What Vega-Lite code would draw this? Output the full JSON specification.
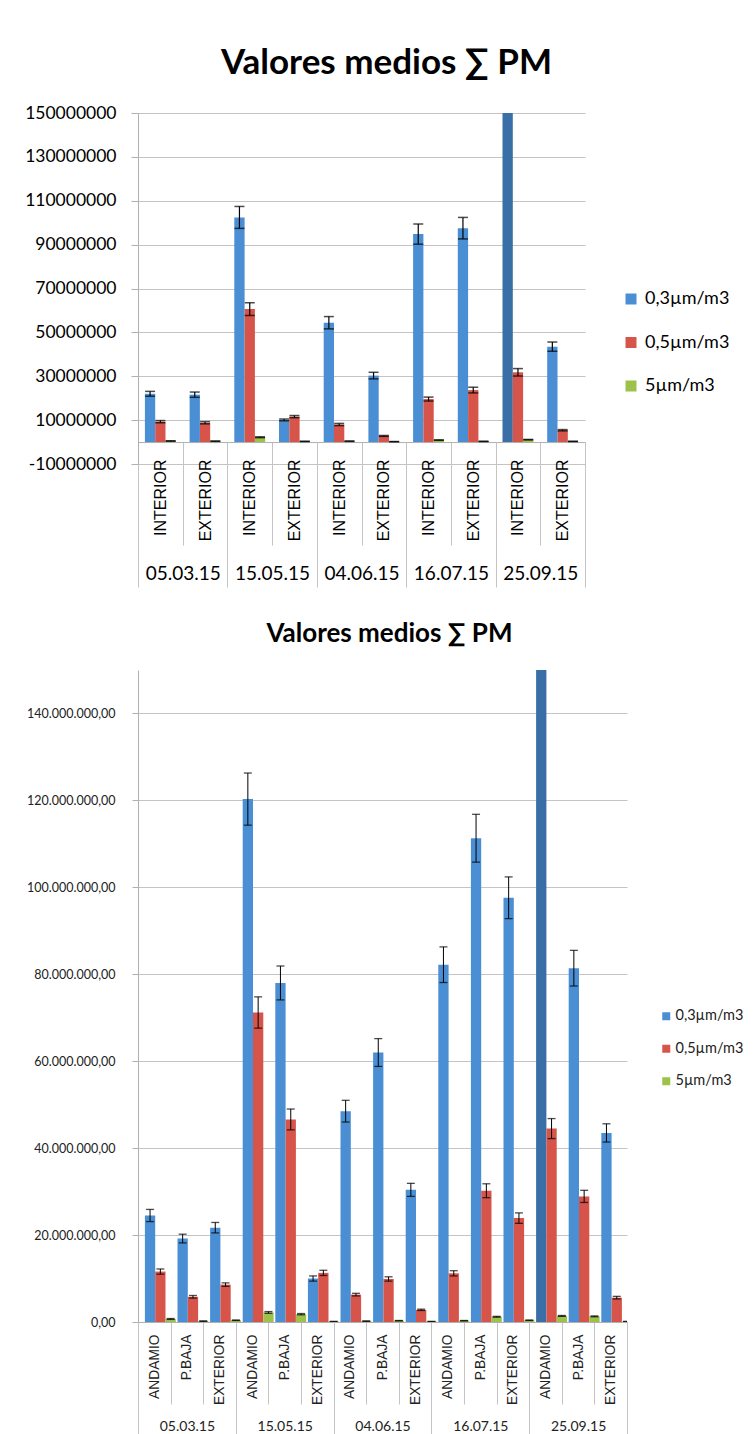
{
  "$schema": "https://vega.github.io/schema/vega-lite/v6.json",
  "padding": {"left": 24, "top": 46, "right": 0, "bottom": 0},
  "spacing": 33,
  "background": "white",
  "datasets": {
    "top": [
      {"fecha": "05.03.15", "cat": "05.03.15 INTERIOR", "serie": "0,3µm/m3", "valor": 22000000, "lo": 20900000, "hi": 23100000},
      {"fecha": "05.03.15", "cat": "05.03.15 INTERIOR", "serie": "0,5µm/m3", "valor": 9300000, "lo": 8800000, "hi": 9800000},
      {"fecha": "05.03.15", "cat": "05.03.15 INTERIOR", "serie": "5µm/m3", "valor": 500000, "lo": 400000, "hi": 600000},
      {"fecha": "05.03.15", "cat": "05.03.15 EXTERIOR", "serie": "0,3µm/m3", "valor": 21600000, "lo": 20400000, "hi": 22800000},
      {"fecha": "05.03.15", "cat": "05.03.15 EXTERIOR", "serie": "0,5µm/m3", "valor": 8800000, "lo": 8300000, "hi": 9300000},
      {"fecha": "05.03.15", "cat": "05.03.15 EXTERIOR", "serie": "5µm/m3", "valor": 400000, "lo": 300000, "hi": 500000},
      {"fecha": "15.05.15", "cat": "15.05.15 INTERIOR", "serie": "0,3µm/m3", "valor": 102400000, "lo": 97400000, "hi": 107400000},
      {"fecha": "15.05.15", "cat": "15.05.15 INTERIOR", "serie": "0,5µm/m3", "valor": 60600000, "lo": 57700000, "hi": 63500000},
      {"fecha": "15.05.15", "cat": "15.05.15 INTERIOR", "serie": "5µm/m3", "valor": 2200000, "lo": 2000000, "hi": 2400000},
      {"fecha": "15.05.15", "cat": "15.05.15 EXTERIOR", "serie": "0,3µm/m3", "valor": 10100000, "lo": 9700000, "hi": 10500000},
      {"fecha": "15.05.15", "cat": "15.05.15 EXTERIOR", "serie": "0,5µm/m3", "valor": 11600000, "lo": 11100000, "hi": 12100000},
      {"fecha": "15.05.15", "cat": "15.05.15 EXTERIOR", "serie": "5µm/m3", "valor": 300000, "lo": 250000, "hi": 350000},
      {"fecha": "04.06.15", "cat": "04.06.15 INTERIOR", "serie": "0,3µm/m3", "valor": 54400000, "lo": 51600000, "hi": 57200000},
      {"fecha": "04.06.15", "cat": "04.06.15 INTERIOR", "serie": "0,5µm/m3", "valor": 8000000, "lo": 7500000, "hi": 8500000},
      {"fecha": "04.06.15", "cat": "04.06.15 INTERIOR", "serie": "5µm/m3", "valor": 400000, "lo": 300000, "hi": 500000},
      {"fecha": "04.06.15", "cat": "04.06.15 EXTERIOR", "serie": "0,3µm/m3", "valor": 30300000, "lo": 28800000, "hi": 31800000},
      {"fecha": "04.06.15", "cat": "04.06.15 EXTERIOR", "serie": "0,5µm/m3", "valor": 2800000, "lo": 2600000, "hi": 3000000},
      {"fecha": "04.06.15", "cat": "04.06.15 EXTERIOR", "serie": "5µm/m3", "valor": 200000, "lo": 150000, "hi": 250000},
      {"fecha": "16.07.15", "cat": "16.07.15 INTERIOR", "serie": "0,3µm/m3", "valor": 94800000, "lo": 90200000, "hi": 99400000},
      {"fecha": "16.07.15", "cat": "16.07.15 INTERIOR", "serie": "0,5µm/m3", "valor": 19600000, "lo": 18700000, "hi": 20500000},
      {"fecha": "16.07.15", "cat": "16.07.15 INTERIOR", "serie": "5µm/m3", "valor": 900000, "lo": 800000, "hi": 1000000},
      {"fecha": "16.07.15", "cat": "16.07.15 EXTERIOR", "serie": "0,3µm/m3", "valor": 97500000, "lo": 92600000, "hi": 102400000},
      {"fecha": "16.07.15", "cat": "16.07.15 EXTERIOR", "serie": "0,5µm/m3", "valor": 23700000, "lo": 22400000, "hi": 25000000},
      {"fecha": "16.07.15", "cat": "16.07.15 EXTERIOR", "serie": "5µm/m3", "valor": 300000, "lo": 250000, "hi": 350000},
      {"fecha": "25.09.15", "cat": "25.09.15 INTERIOR", "serie": "0,3µm/m3", "valor": 170000000, "lo": 162000000, "hi": 178000000},
      {"fecha": "25.09.15", "cat": "25.09.15 INTERIOR", "serie": "0,5µm/m3", "valor": 31800000, "lo": 30100000, "hi": 33500000},
      {"fecha": "25.09.15", "cat": "25.09.15 INTERIOR", "serie": "5µm/m3", "valor": 1100000, "lo": 1000000, "hi": 1200000},
      {"fecha": "25.09.15", "cat": "25.09.15 EXTERIOR", "serie": "0,3µm/m3", "valor": 43500000, "lo": 41400000, "hi": 45600000},
      {"fecha": "25.09.15", "cat": "25.09.15 EXTERIOR", "serie": "0,5µm/m3", "valor": 5400000, "lo": 5100000, "hi": 5700000},
      {"fecha": "25.09.15", "cat": "25.09.15 EXTERIOR", "serie": "5µm/m3", "valor": 300000, "lo": 250000, "hi": 350000}
    ],
    "bottom": [
      {"fecha": "05.03.15", "cat": "05.03.15 ANDAMIO", "serie": "0,3µm/m3", "valor": 24500000, "lo": 23100000, "hi": 25900000},
      {"fecha": "05.03.15", "cat": "05.03.15 ANDAMIO", "serie": "0,5µm/m3", "valor": 11600000, "lo": 11000000, "hi": 12200000},
      {"fecha": "05.03.15", "cat": "05.03.15 ANDAMIO", "serie": "5µm/m3", "valor": 700000, "lo": 600000, "hi": 800000},
      {"fecha": "05.03.15", "cat": "05.03.15 P.BAJA", "serie": "0,3µm/m3", "valor": 19200000, "lo": 18200000, "hi": 20200000},
      {"fecha": "05.03.15", "cat": "05.03.15 P.BAJA", "serie": "0,5µm/m3", "valor": 5800000, "lo": 5500000, "hi": 6100000},
      {"fecha": "05.03.15", "cat": "05.03.15 P.BAJA", "serie": "5µm/m3", "valor": 200000, "lo": 150000, "hi": 250000},
      {"fecha": "05.03.15", "cat": "05.03.15 EXTERIOR", "serie": "0,3µm/m3", "valor": 21700000, "lo": 20500000, "hi": 22900000},
      {"fecha": "05.03.15", "cat": "05.03.15 EXTERIOR", "serie": "0,5µm/m3", "valor": 8600000, "lo": 8200000, "hi": 9000000},
      {"fecha": "05.03.15", "cat": "05.03.15 EXTERIOR", "serie": "5µm/m3", "valor": 400000, "lo": 350000, "hi": 450000},
      {"fecha": "15.05.15", "cat": "15.05.15 ANDAMIO", "serie": "0,3µm/m3", "valor": 120300000, "lo": 114300000, "hi": 126300000},
      {"fecha": "15.05.15", "cat": "15.05.15 ANDAMIO", "serie": "0,5µm/m3", "valor": 71200000, "lo": 67600000, "hi": 74800000},
      {"fecha": "15.05.15", "cat": "15.05.15 ANDAMIO", "serie": "5µm/m3", "valor": 2200000, "lo": 2000000, "hi": 2400000},
      {"fecha": "15.05.15", "cat": "15.05.15 P.BAJA", "serie": "0,3µm/m3", "valor": 78000000, "lo": 74100000, "hi": 81900000},
      {"fecha": "15.05.15", "cat": "15.05.15 P.BAJA", "serie": "0,5µm/m3", "valor": 46600000, "lo": 44200000, "hi": 49000000},
      {"fecha": "15.05.15", "cat": "15.05.15 P.BAJA", "serie": "5µm/m3", "valor": 1800000, "lo": 1650000, "hi": 1950000},
      {"fecha": "15.05.15", "cat": "15.05.15 EXTERIOR", "serie": "0,3µm/m3", "valor": 10000000, "lo": 9400000, "hi": 10600000},
      {"fecha": "15.05.15", "cat": "15.05.15 EXTERIOR", "serie": "0,5µm/m3", "valor": 11300000, "lo": 10700000, "hi": 11900000},
      {"fecha": "15.05.15", "cat": "15.05.15 EXTERIOR", "serie": "5µm/m3", "valor": 100000, "lo": 50000, "hi": 150000},
      {"fecha": "04.06.15", "cat": "04.06.15 ANDAMIO", "serie": "0,3µm/m3", "valor": 48500000, "lo": 46000000, "hi": 51000000},
      {"fecha": "04.06.15", "cat": "04.06.15 ANDAMIO", "serie": "0,5µm/m3", "valor": 6300000, "lo": 6000000, "hi": 6600000},
      {"fecha": "04.06.15", "cat": "04.06.15 ANDAMIO", "serie": "5µm/m3", "valor": 200000, "lo": 150000, "hi": 250000},
      {"fecha": "04.06.15", "cat": "04.06.15 P.BAJA", "serie": "0,3µm/m3", "valor": 62000000, "lo": 58800000, "hi": 65200000},
      {"fecha": "04.06.15", "cat": "04.06.15 P.BAJA", "serie": "0,5µm/m3", "valor": 9900000, "lo": 9400000, "hi": 10400000},
      {"fecha": "04.06.15", "cat": "04.06.15 P.BAJA", "serie": "5µm/m3", "valor": 300000, "lo": 250000, "hi": 350000},
      {"fecha": "04.06.15", "cat": "04.06.15 EXTERIOR", "serie": "0,3µm/m3", "valor": 30400000, "lo": 28900000, "hi": 31900000},
      {"fecha": "04.06.15", "cat": "04.06.15 EXTERIOR", "serie": "0,5µm/m3", "valor": 2800000, "lo": 2650000, "hi": 2950000},
      {"fecha": "04.06.15", "cat": "04.06.15 EXTERIOR", "serie": "5µm/m3", "valor": 100000, "lo": 50000, "hi": 150000},
      {"fecha": "16.07.15", "cat": "16.07.15 ANDAMIO", "serie": "0,3µm/m3", "valor": 82200000, "lo": 78100000, "hi": 86300000},
      {"fecha": "16.07.15", "cat": "16.07.15 ANDAMIO", "serie": "0,5µm/m3", "valor": 11200000, "lo": 10600000, "hi": 11800000},
      {"fecha": "16.07.15", "cat": "16.07.15 ANDAMIO", "serie": "5µm/m3", "valor": 300000, "lo": 250000, "hi": 350000},
      {"fecha": "16.07.15", "cat": "16.07.15 P.BAJA", "serie": "0,3µm/m3", "valor": 111300000, "lo": 105800000, "hi": 116800000},
      {"fecha": "16.07.15", "cat": "16.07.15 P.BAJA", "serie": "0,5µm/m3", "valor": 30200000, "lo": 28600000, "hi": 31800000},
      {"fecha": "16.07.15", "cat": "16.07.15 P.BAJA", "serie": "5µm/m3", "valor": 1200000, "lo": 1100000, "hi": 1300000},
      {"fecha": "16.07.15", "cat": "16.07.15 EXTERIOR", "serie": "0,3µm/m3", "valor": 97600000, "lo": 92800000, "hi": 102400000},
      {"fecha": "16.07.15", "cat": "16.07.15 EXTERIOR", "serie": "0,5µm/m3", "valor": 23900000, "lo": 22700000, "hi": 25100000},
      {"fecha": "16.07.15", "cat": "16.07.15 EXTERIOR", "serie": "5µm/m3", "valor": 400000, "lo": 350000, "hi": 450000},
      {"fecha": "25.09.15", "cat": "25.09.15 ANDAMIO", "serie": "0,3µm/m3", "valor": 175000000, "lo": 167000000, "hi": 183000000},
      {"fecha": "25.09.15", "cat": "25.09.15 ANDAMIO", "serie": "0,5µm/m3", "valor": 44500000, "lo": 42200000, "hi": 46800000},
      {"fecha": "25.09.15", "cat": "25.09.15 ANDAMIO", "serie": "5µm/m3", "valor": 1400000, "lo": 1300000, "hi": 1500000},
      {"fecha": "25.09.15", "cat": "25.09.15 P.BAJA", "serie": "0,3µm/m3", "valor": 81400000, "lo": 77300000, "hi": 85500000},
      {"fecha": "25.09.15", "cat": "25.09.15 P.BAJA", "serie": "0,5µm/m3", "valor": 28900000, "lo": 27500000, "hi": 30300000},
      {"fecha": "25.09.15", "cat": "25.09.15 P.BAJA", "serie": "5µm/m3", "valor": 1300000, "lo": 1200000, "hi": 1400000},
      {"fecha": "25.09.15", "cat": "25.09.15 EXTERIOR", "serie": "0,3µm/m3", "valor": 43500000, "lo": 41400000, "hi": 45600000},
      {"fecha": "25.09.15", "cat": "25.09.15 EXTERIOR", "serie": "0,5µm/m3", "valor": 5600000, "lo": 5300000, "hi": 5900000},
      {"fecha": "25.09.15", "cat": "25.09.15 EXTERIOR", "serie": "5µm/m3", "valor": 100000, "lo": 50000, "hi": 150000}
    ]
  },
  "vconcat": [
    {
      "data": {"name": "top"},
      "width": 447,
      "height": 351,
      "title": {"text": "Valores medios ∑ PM", "font": "Lato", "fontSize": 35, "fontWeight": "bold", "color": "#000", "anchor": "middle", "offset": 23, "dx": 25},
      "layer": [
        {
          "encoding": {
            "x": {"field": "cat", "type": "nominal", "sort": null, "scale": {"paddingInner": 0, "paddingOuter": 0},
              "axis": {"title": null, "orient": "bottom", "offset": -21.94, "domain": true, "domainColor": "#b0b0b0", "ticks": true, "tickBand": "extent", "tickSize": 103, "tickColor": "#c4c4c4", "labelAngle": 270, "labelAlign": "right", "labelBaseline": "middle", "labelPadding": -86, "labelFont": "Liberation Sans", "labelFontSize": 16, "labelColor": "#000", "labelExpr": "split(datum.label, ' ')[1]", "grid": false}},
            "xOffset": {"field": "serie", "type": "nominal", "sort": null, "scale": {"paddingInner": 0, "paddingOuter": 0.67}}
          },
          "layer": [
            {
              "mark": {"type": "bar", "clip": true},
              "encoding": {
                "y": {"field": "valor", "type": "quantitative", "scale": {"domain": [-10000000, 150000000], "nice": false, "zero": false},
                  "axis": {"title": null, "values": [-10000000, 10000000, 30000000, 50000000, 70000000, 90000000, 110000000, 130000000, 150000000], "labelExpr": "toString(datum.value)", "labelFont": "Lato", "labelFontSize": 17.5, "labelColor": "#000", "labelPadding": 15, "tickSize": 7}},
                "color": {
                  "condition": {"test": "datum.valor > 150000000", "value": "#3a6ea6"},
                  "field": "serie", "type": "nominal",
                  "scale": {"domain": ["0,3µm/m3", "0,5µm/m3", "5µm/m3"], "range": ["#4a8fd4", "#d6544a", "#9dc249"]},
                  "legend": {"orient": "none", "legendX": 484, "legendY": 177, "title": null, "symbolType": "square", "symbolSize": 121, "symbolStrokeWidth": 0, "labelFont": "Lato", "labelFontSize": 18, "labelColor": "#000", "rowPadding": 25.5, "labelOffset": 5, "padding": 0}
                }
              }
            },
            {
              "mark": {"type": "rule", "clip": true, "color": "#000", "strokeWidth": 1.2},
              "encoding": {"y": {"field": "lo", "type": "quantitative", "axis": {"title": null}}, "y2": {"field": "hi"}}
            },
            {
              "mark": {"type": "tick", "clip": true, "color": "#000", "thickness": 1.5, "size": 10},
              "encoding": {"y": {"field": "lo", "type": "quantitative", "axis": {"title": null}}}
            },
            {
              "mark": {"type": "tick", "clip": true, "color": "#000", "thickness": 1.5, "size": 10},
              "encoding": {"y": {"field": "hi", "type": "quantitative", "axis": {"title": null}}}
            }
          ]
        },
        {
          "mark": {"type": "point", "opacity": 0},
          "encoding": {
            "x": {"field": "fecha", "type": "nominal", "sort": null, "scale": {"paddingInner": 0, "paddingOuter": 0},
              "axis": {"title": null, "orient": "bottom", "offset": -21.94, "domain": false, "ticks": true, "tickBand": "extent", "tickSize": 145, "tickColor": "#c4c4c4", "labelAngle": 0, "labelAlign": "center", "labelBaseline": "top", "labelPadding": -23, "labelFont": "Lato", "labelFontSize": 19, "labelColor": "#000", "grid": false}}
          }
        }
      ],
      "resolve": {"scale": {"x": "independent"}}
    },
    {
      "data": {"name": "bottom"},
      "width": 489,
      "height": 652,
      "title": {"text": "Valores medios ∑ PM", "font": "Lato", "fontSize": 26, "fontWeight": "bold", "color": "#000", "anchor": "middle", "offset": 23, "dx": 7},
      "layer": [
        {
          "encoding": {
            "x": {"field": "cat", "type": "nominal", "sort": null, "scale": {"paddingInner": 0, "paddingOuter": 0},
              "axis": {"title": null, "orient": "bottom", "domain": true, "domainColor": "#b0b0b0", "ticks": true, "tickBand": "extent", "tickSize": 82, "tickColor": "#c4c4c4", "labelAngle": 270, "labelAlign": "right", "labelBaseline": "middle", "labelPadding": -70, "labelFont": "Liberation Sans", "labelFontSize": 13.8, "labelColor": "#222", "labelExpr": "split(datum.label, ' ')[1]", "grid": false}},
            "xOffset": {"field": "serie", "type": "nominal", "sort": null, "scale": {"paddingInner": 0, "paddingOuter": 0.55}}
          },
          "layer": [
            {
              "mark": {"type": "bar", "clip": true},
              "encoding": {
                "y": {"field": "valor", "type": "quantitative", "scale": {"domain": [0, 150000000], "nice": false},
                  "axis": {"title": null, "values": [0, 20000000, 40000000, 60000000, 80000000, 100000000, 120000000, 140000000], "labelExpr": "replace(replace(replace(format(datum.value, ',.2f'), regexp(',', 'g'), '#'), regexp('[.]', 'g'), ','), regexp('#', 'g'), '.')", "labelFont": "Lato", "labelFontSize": 12.5, "labelColor": "#222", "labelPadding": 17, "tickSize": 6}},
                "color": {
                  "condition": {"test": "datum.valor > 150000000", "value": "#3a6ea6"},
                  "field": "serie", "type": "nominal",
                  "scale": {"domain": ["0,3µm/m3", "0,5µm/m3", "5µm/m3"], "range": ["#4a8fd4", "#d6544a", "#9dc249"]},
                  "legend": {"orient": "none", "legendX": 521, "legendY": 339, "title": null, "symbolType": "square", "symbolSize": 64, "symbolStrokeWidth": 0, "labelFont": "Lato", "labelFontSize": 14.5, "labelColor": "#222", "rowPadding": 17.5, "labelOffset": 2, "padding": 0}
                }
              }
            },
            {
              "mark": {"type": "rule", "clip": true, "color": "#000", "strokeWidth": 1},
              "encoding": {"y": {"field": "lo", "type": "quantitative", "axis": {"title": null}}, "y2": {"field": "hi"}}
            },
            {
              "mark": {"type": "tick", "clip": true, "color": "#000", "thickness": 1.3, "size": 8},
              "encoding": {"y": {"field": "lo", "type": "quantitative", "axis": {"title": null}}}
            },
            {
              "mark": {"type": "tick", "clip": true, "color": "#000", "thickness": 1.3, "size": 8},
              "encoding": {"y": {"field": "hi", "type": "quantitative", "axis": {"title": null}}}
            }
          ]
        },
        {
          "mark": {"type": "point", "opacity": 0},
          "encoding": {
            "x": {"field": "fecha", "type": "nominal", "sort": null, "scale": {"paddingInner": 0, "paddingOuter": 0},
              "axis": {"title": null, "orient": "bottom", "domain": false, "ticks": true, "tickBand": "extent", "tickSize": 115, "tickColor": "#c4c4c4", "labelAngle": 0, "labelAlign": "center", "labelBaseline": "top", "labelPadding": -18, "labelFont": "Lato", "labelFontSize": 14, "labelColor": "#222", "grid": false}}
          }
        }
      ],
      "resolve": {"scale": {"x": "independent"}}
    }
  ],
  "resolve": {"scale": {"color": "independent"}, "legend": {"color": "independent"}},
  "config": {
    "view": {"stroke": null},
    "font": "Lato",
    "axisY": {"gridColor": "#c4c4c4", "gridWidth": 1, "domainColor": "#b0b0b0", "tickColor": "#b0b0b0", "grid": true}
  }
}
